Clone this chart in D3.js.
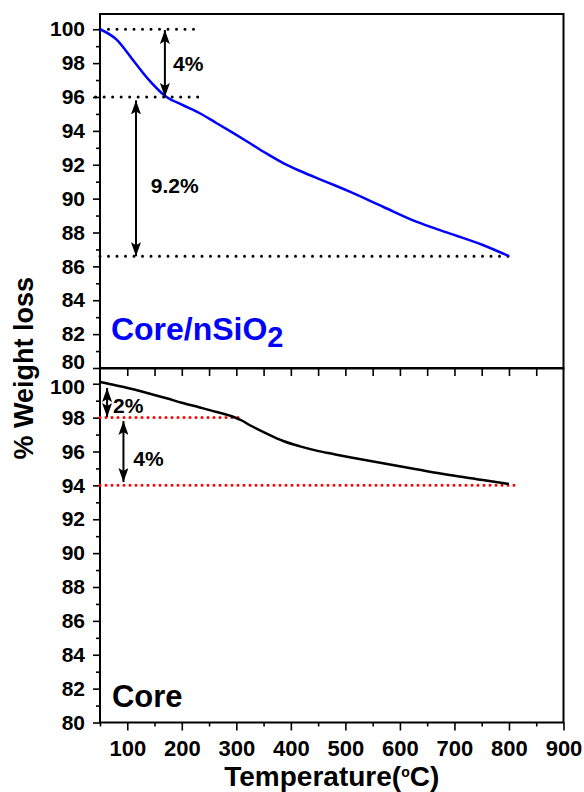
<!DOCTYPE html>
<html>
<head>
<meta charset="utf-8">
<script src="https://cdn.jsdelivr.net/npm/d3@7"></script>
<style>
  html, body { margin: 0; padding: 0; background: #fff; }
  svg { display: block; font-family: Arial, "Liberation Sans", sans-serif; font-weight: bold; }
</style>
</head>
<body>
<svg id="chart" width="584" height="792"></svg>
<script>
// ---------- data ----------
const tempCoreSiO2   = [50, 80, 110, 140, 172, 200, 233, 260, 294, 325, 355, 386, 417, 447, 478, 508, 569, 630, 691, 752, 800];
const weightCoreSiO2 = [100, 99.4, 98.2, 97.0, 96.0, 95.55, 95.04, 94.53, 93.88, 93.27, 92.67, 92.1, 91.63, 91.22, 90.82, 90.41, 89.52, 88.64, 87.95, 87.26, 86.6];

const tempCore   = [50, 80, 111, 140, 172, 200, 233, 264, 294, 310, 325, 355, 386, 417, 447, 478, 508, 569, 630, 691, 752, 800];
const weightCore = [100.1, 99.9, 99.67, 99.42, 99.14, 98.88, 98.6, 98.33, 98.05, 97.83, 97.55, 97.07, 96.62, 96.3, 96.05, 95.85, 95.66, 95.3, 94.95, 94.61, 94.32, 94.08];

const xMajorTicks = [100, 200, 300, 400, 500, 600, 700, 800, 900];
const xMinorTicks = [50, 150, 250, 350, 450, 550, 650, 750, 850];
const yMajorTicks = [80, 82, 84, 86, 88, 90, 92, 94, 96, 98, 100];
const yMinorTicks = [81, 83, 85, 87, 89, 91, 93, 95, 97, 99];

// reference (dotted) lines: panel, weight level, temperature from, to, colour
const refPanel = ["top", "top", "top", "bottom", "bottom"];
const refLevel = [100, 96, 86.6, 98, 94];
const refFrom  = [50, 42, 50, 50, 50];
const refTo    = [236, 236, 802, 312, 820];
const refColor = ["#000", "#000", "#000", "#ff0000", "#ff0000"];

// double arrows: panel, temperature, from level, to level
const arrowPanel = ["top", "top", "bottom", "bottom"];
const arrowTemp  = [169, 116, 63, 93];
const arrowFrom  = [99.95, 95.8, 99.75, 97.8];
const arrowTo    = [96.0, 86.6, 98.03, 94.2];

// annotation labels: panel, text, temperature, level (baseline)
const noteText  = ["4%", "9.2%", "2%", "4%"];
const notePanel = ["top", "top", "bottom", "bottom"];
const noteTemp  = [184, 143, 74, 111];
const noteLevel = [97.55, 90.35, 98.27, 95.16];

const xTitle = "Temperature(";
const yTitle = "% Weight loss";

// ---------- layout ----------
const svg = d3.select("#chart");
const left = 100, right = 563.5;
const topPanel = { y0: 14, y1: 368 };
const botPanel = { y0: 368.5, y1: 722.5 };

const x = d3.scaleLinear().domain([50, 900]).range([left, right]);
const yTop = d3.scaleLinear().domain([80, 100.9]).range([topPanel.y1, topPanel.y0]);
const yBot = d3.scaleLinear().domain([80, 100.9]).range([botPanel.y1, botPanel.y0]);
const yOf = p => p === "top" ? yTop : yBot;

// defs: arrowhead
const defs = svg.append("defs");
defs.append("marker")
  .attr("id", "ah")
  .attr("viewBox", "0 0 14 10")
  .attr("refX", 14).attr("refY", 5)
  .attr("markerWidth", 14).attr("markerHeight", 10)
  .attr("markerUnits", "userSpaceOnUse")
  .attr("orient", "auto-start-reverse")
  .append("path").attr("d", "M0,0 L14,5 L0,10 L3,5 Z").attr("fill", "#000");

const fontSize = 21;

function styleAxis(g) {
  g.select(".domain").remove();
  g.selectAll("line").attr("stroke", "#000").attr("stroke-width", 1.6);
  g.selectAll("text").attr("font-size", fontSize).attr("font-weight", "bold")
   .attr("fill", "#000").attr("font-family", "Arial, 'Liberation Sans', sans-serif");
}

// y axes
[["top", yTop], ["bottom", yBot]].forEach(([p, ys]) => {
  svg.append("g").attr("transform", `translate(${left},0)`)
    .call(d3.axisLeft(ys).tickValues(yMinorTicks).tickSize(4).tickFormat(""))
    .call(styleAxis);
  const g = svg.append("g").attr("transform", `translate(${left},0)`)
    .call(d3.axisLeft(ys).tickValues(yMajorTicks).tickSize(7).tickPadding(8).tickFormat(d3.format("d")))
    .call(styleAxis);
  // keep the touching labels at the panel junction apart
  g.selectAll(".tick text")
    .attr("dy", d => (p === "top" && d === 80) ? "0.03em" : (p === "bottom" && d === 100) ? "0.48em" : "0.32em");
});

// shared middle axis (top panel's x axis, ticks point down)
svg.append("g").attr("transform", `translate(0,${topPanel.y1})`)
  .call(d3.axisBottom(x).tickValues(xMajorTicks.concat(xMinorTicks).filter(v => v > 50 && v < 900)).tickSize(8).tickFormat(""))
  .call(styleAxis);

// bottom x axis
svg.append("g").attr("transform", `translate(0,${botPanel.y1})`)
  .call(d3.axisBottom(x).tickValues(xMinorTicks).tickSize(4).tickFormat(""))
  .call(styleAxis);
const xAx = svg.append("g").attr("transform", `translate(0,${botPanel.y1})`)
  .call(d3.axisBottom(x).tickValues(xMajorTicks).tickSize(8).tickPadding(10).tickFormat(d3.format("d")))
  .call(styleAxis);
xAx.selectAll("text").attr("font-size", 22);

// frames
[topPanel, botPanel].forEach(p => {
  svg.append("rect")
    .attr("x", left).attr("y", p.y0)
    .attr("width", right - left).attr("height", p.y1 - p.y0)
    .attr("fill", "none").attr("stroke", "#000").attr("stroke-width", 2);
});

// dotted reference lines
refLevel.forEach((lv, i) => {
  const ys = yOf(refPanel[i]);
  const red = refColor[i] !== "#000";
  svg.append("line")
    .attr("x1", x(refFrom[i])).attr("x2", x(refTo[i]))
    .attr("y1", ys(lv)).attr("y2", ys(lv))
    .attr("stroke", refColor[i])
    .attr("stroke-width", 3)
    .attr("stroke-linecap", "round")
    .attr("stroke-dasharray", red ? "0 6" : "0 8.5");
});

// curves
const lineTop = d3.line().x(d => x(d[0])).y(d => yTop(d[1])).curve(d3.curveMonotoneX);
const lineBot = d3.line().x(d => x(d[0])).y(d => yBot(d[1])).curve(d3.curveMonotoneX);
svg.append("path").datum(d3.zip(tempCoreSiO2, weightCoreSiO2))
  .attr("d", lineTop).attr("fill", "none").attr("stroke", "#0000ff").attr("stroke-width", 2.5);
svg.append("path").datum(d3.zip(tempCore, weightCore))
  .attr("d", lineBot).attr("fill", "none").attr("stroke", "#000").attr("stroke-width", 2.5);

// arrows
arrowTemp.forEach((t, i) => {
  const ys = yOf(arrowPanel[i]);
  svg.append("line")
    .attr("x1", x(t)).attr("x2", x(t))
    .attr("y1", ys(arrowFrom[i])).attr("y2", ys(arrowTo[i]))
    .attr("stroke", "#000").attr("stroke-width", 2)
    .attr("marker-start", "url(#ah)").attr("marker-end", "url(#ah)");
});

// annotation text
noteText.forEach((t, i) => {
  svg.append("text")
    .attr("x", x(noteTemp[i])).attr("y", yOf(notePanel[i])(noteLevel[i]))
    .attr("font-size", fontSize).attr("fill", "#000").text(t);
});

// panel labels
const lbl = svg.append("text")
  .attr("x", x(70)).attr("y", yTop(81.65))
  .attr("font-size", 32).attr("fill", "#0000ff");
lbl.append("tspan").text("Core/nSiO");
lbl.append("tspan").attr("font-size", 29).attr("dy", 7).text("2");

svg.append("text")
  .attr("x", x(72)).attr("y", yBot(80.92))
  .attr("font-size", 31).attr("fill", "#000").text("Core");

// axis titles
const xt = svg.append("text")
  .attr("x", (left + right) / 2).attr("y", 786)
  .attr("text-anchor", "middle").attr("font-size", 28).attr("fill", "#000");
xt.append("tspan").text(xTitle);
xt.append("tspan").attr("font-size", 14).attr("dy", -9).text("o");
xt.append("tspan").attr("dy", 9).text("C)");

svg.append("text")
  .attr("transform", `translate(33,${(topPanel.y0 + botPanel.y1) / 2}) rotate(-90)`)
  .attr("text-anchor", "middle").attr("font-size", 27).attr("fill", "#000")
  .text(yTitle);
</script>
</body>
</html>
